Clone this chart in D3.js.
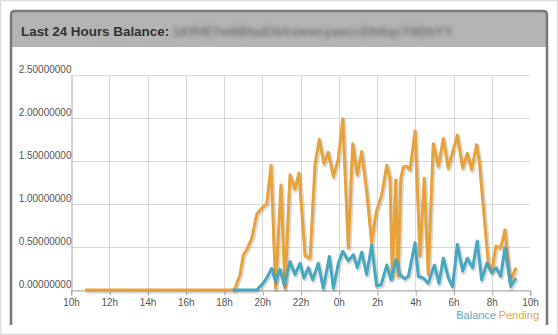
<!DOCTYPE html>
<html>
<head>
<meta charset="utf-8">
<script src="https://cdn.jsdelivr.net/npm/d3@7"></script>
<style>
  body { margin: 0; background: #fff; }
  svg { display: block; font-family: "Liberation Sans", Arial, sans-serif; }
  .grid line { stroke: #d6d6d6; stroke-width: 1; }
  .axis-text { fill: #555; font-size: 10px; }
</style>
</head>
<body>
<svg id="chart" width="558" height="335"></svg>
<script>
// ========= data (hours on the clock, past midnight continues as 24+) =========
const pendingTimes = [10.73, 18.54, 18.84, 19.01, 19.19, 19.45, 19.71, 19.97, 20.23, 20.46, 20.70,
  20.98, 21.19, 21.45, 21.71, 21.92, 22.24, 22.50, 22.76, 22.98, 23.23, 23.45, 23.72, 23.98,
  24.21, 24.50, 24.73, 24.97, 25.20, 25.46, 25.72, 25.95, 26.25, 26.51, 26.68, 26.80, 26.98,
  27.10, 27.25, 27.37, 27.55, 27.73, 27.99, 28.25, 28.47, 28.68, 28.94, 29.21, 29.47, 29.73,
  30.20, 30.48, 30.72, 30.95, 31.21, 31.35, 31.82, 32.00, 32.22, 32.47, 32.69, 32.95, 33.27];
const pendingValues = [0, 0, 0.18, 0.41, 0.47, 0.60, 0.88, 0.95, 1.00, 1.45, 0.02,
  1.22, 0.02, 1.34, 1.17, 1.36, 0.40, 0.37, 1.46, 1.75, 1.47, 1.60, 1.32, 1.53,
  1.99, 0.49, 1.70, 1.34, 1.61, 1.15, 0.55, 0.90, 1.11, 1.45, 1.30, 0.14, 1.28,
  0.16, 1.30, 1.43, 1.44, 1.40, 1.85, 0.40, 1.30, 0.18, 1.70, 1.44, 1.76, 1.42,
  1.80, 1.42, 1.59, 1.40, 1.69, 1.50, 0.31, 0.22, 0.51, 0.49, 0.70, 0.10, 0.26];

const balanceTimes = [18.45, 19.71, 20.05, 20.23, 20.49, 20.70, 20.93, 21.15, 21.45, 21.71, 21.97,
  22.18, 22.41, 22.64, 22.93, 23.19, 23.51, 23.72, 23.98, 24.21, 24.50, 24.76, 24.97, 25.20,
  25.46, 25.72, 25.98, 26.21, 26.51, 26.73, 26.98, 27.20, 27.46, 27.64, 27.99, 28.16, 28.42,
  28.68, 29.00, 29.24, 29.47, 29.73, 29.95, 30.20, 30.48, 30.72, 31.00, 31.24, 31.47, 31.74,
  32.00, 32.22, 32.47, 32.69, 32.99, 33.27];
const balanceValues = [0, 0, 0.08, 0.14, 0.25, 0.10, 0.24, 0.06, 0.33, 0.18, 0.31,
  0.14, 0.26, 0.12, 0.31, 0.02, 0.39, 0.02, 0.31, 0.45, 0.34, 0.41, 0.26, 0.44,
  0.18, 0.52, 0.05, 0.06, 0.29, 0.12, 0.35, 0.18, 0.13, 0.16, 0.55, 0.16, 0.14,
  0.08, 0.29, 0.08, 0.37, 0.14, 0.04, 0.53, 0.22, 0.37, 0.26, 0.57, 0.12, 0.31,
  0.20, 0.26, 0.16, 0.49, 0.04, 0.14];

const xTicks = [10, 12, 14, 16, 18, 20, 22, 24, 26, 28, 30, 32, 34];
const yTicks = [0, 0.5, 1.0, 1.5, 2.0, 2.5];

const seriesNames = ["Balance", "Pending"];
const seriesColors = ["#45a8c0", "#e8a23a"];

// ========= svg =========
const svg = d3.select("#chart");
const width = +svg.attr("width");
const height = +svg.attr("height");

// page frame
svg.append("rect")
    .attr("x", 0.5).attr("y", 0.5)
    .attr("width", width - 1).attr("height", height - 1)
    .attr("fill", "#fff")
    .attr("stroke", "#dcdcdc")
    .attr("stroke-width", 1.5);

// panel header
svg.append("path")
    .attr("d", "M11,47 V15 Q11,11 15,11 H543 Q547,11 547,15 V47 Z")
    .attr("fill", "#b3b3b3");

svg.append("path")
    .attr("d", "M11,325 V15 Q11,11 15,11 H543 Q547,11 547,15 V325")
    .attr("fill", "none")
    .attr("stroke", "#787878")
    .attr("stroke-width", 2.5);

svg.append("text")
    .attr("x", 21)
    .attr("y", 36)
    .attr("fill", "#333")
    .style("font-size", "13.4px")
    .style("font-weight", "bold")
    .text("Last 24 Hours Balance:");

// the address is blurred in the original
svg.append("defs").append("filter")
    .attr("id", "blur")
    .append("feGaussianBlur")
    .attr("stdDeviation", 1.9);

svg.append("text")
    .attr("x", 173)
    .attr("y", 36)
    .attr("fill", "#747474")
    .attr("filter", "url(#blur)")
    .style("font-size", "13px")
    .style("font-weight", "bold")
    .attr("textLength", 280)
    .text("1KfHE7w8BhaENAswwryaoccDb6qcT6DbYY");

// ========= scales =========
const x = d3.scaleLinear().domain([10, 34]).range([71, 530]);
const y = d3.scaleLinear().domain([0, 2.5]).range([290, 75]);

// ========= grid =========
const grid = svg.append("g").attr("class", "grid");

grid.selectAll(".h")
    .data(yTicks)
    .join("line")
    .attr("x1", x(10)).attr("x2", x(34))
    .attr("y1", d => Math.round(y(d)) + 0.5)
    .attr("y2", d => Math.round(y(d)) + 0.5);

grid.selectAll(".v")
    .data(xTicks.slice(1, -1))
    .join("line")
    .attr("x1", d => Math.round(x(d)) + 0.5)
    .attr("x2", d => Math.round(x(d)) + 0.5)
    .attr("y1", y(2.5)).attr("y2", y(0));

// ========= axes =========
const xAxis = svg.append("g")
    .attr("transform", `translate(0,${Math.round(y(0)) + 0.5})`)
    .call(d3.axisBottom(x)
        .tickValues(xTicks)
        .tickSize(5)
        .tickPadding(3)
        .tickFormat(d => `${d % 24}h`));

xAxis.select(".domain").attr("stroke", "#a8a8a8");
xAxis.selectAll("line").attr("stroke", "#a8a8a8")
    .attr("transform", "translate(0.5,0)");
xAxis.selectAll("text").attr("class", "axis-text").attr("font-family", null);

const yAxis = svg.append("g")
    .attr("transform", `translate(${Math.round(x(10)) + 0.5},0)`)
    .call(d3.axisLeft(y)
        .tickValues(yTicks)
        .tickSize(0)
        .tickPadding(0)
        .tickFormat(d3.format(".8f")));

yAxis.select(".domain").attr("stroke", "#a8a8a8");
yAxis.selectAll("text")
    .attr("class", "axis-text")
    .attr("font-family", null)
    .attr("dy", null)
    .attr("y", -2.5);

// ========= lines =========
const line = d3.line()
    .x(d => x(d[0]))
    .y(d => y(d[1]));

const pendingData = pendingTimes.map((t, i) => [t, pendingValues[i]]);
const balanceData = balanceTimes.map((t, i) => [t, balanceValues[i]]);

[[pendingData, seriesColors[1]], [balanceData, seriesColors[0]]].forEach(([data, c]) => {
    svg.append("path")
        .datum(data)
        .attr("transform", "translate(1,1.5)")
        .attr("fill", "none")
        .attr("stroke", "rgba(0,0,0,0.15)")
        .attr("stroke-width", 4.5)
        .attr("stroke-linejoin", "round")
        .attr("d", line);
    svg.append("path")
        .datum(data)
        .attr("fill", "none")
        .attr("stroke", c)
        .attr("stroke-width", 3)
        .attr("stroke-linejoin", "round")
        .attr("d", line);
});

// ========= legend =========
svg.append("text")
    .attr("x", 496).attr("y", 319)
    .attr("text-anchor", "end")
    .attr("fill", "#5aabc6")
    .style("font-size", "11px")
    .text(seriesNames[0]);

svg.append("text")
    .attr("x", 539).attr("y", 319)
    .attr("text-anchor", "end")
    .attr("fill", "#e3a450")
    .style("font-size", "11px")
    .text(seriesNames[1]);
</script>
</body>
</html>
